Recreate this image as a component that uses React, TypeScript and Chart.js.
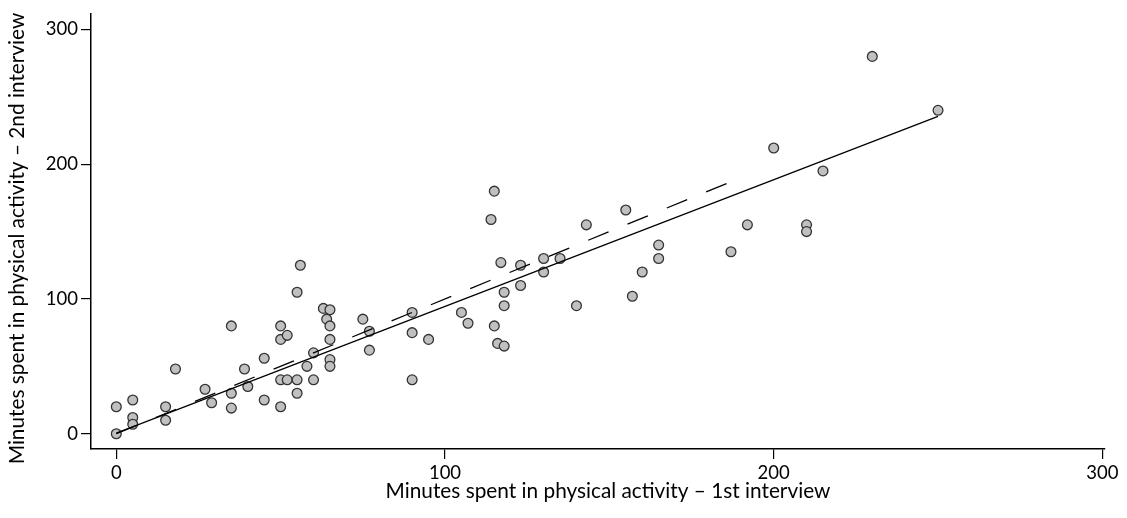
import React, { useEffect, useRef } from "react";
import { Chart, registerables } from "chart.js";

Chart.register(...registerables);

// Minutes spent in physical activity – 1st interview (x) and 2nd interview (y)
const firstInterview = [
  0, 0, 5, 5, 5, 15, 15, 18, 27, 29, 35, 35, 35, 39, 40, 45, 45, 50, 50, 52,
  50, 52, 55, 55, 50, 55, 56, 58, 60, 60, 63, 65, 64, 65, 65, 65, 65, 75, 77, 77,
  90, 90, 90, 95, 105, 107, 115, 114, 155, 143, 165, 165, 160, 157, 140, 130, 130, 135, 123, 123,
  117, 118, 118, 115, 116, 118, 250, 200, 215, 192, 210, 210, 187, 230,
];
const secondInterview = [
  0, 20, 25, 12, 7, 20, 10, 48, 33, 23, 80, 30, 19, 48, 35, 56, 25, 80, 70, 73,
  40, 40, 40, 30, 20, 105, 125, 50, 60, 40, 93, 92, 85, 80, 70, 55, 50, 85, 76, 62,
  90, 75, 40, 70, 90, 82, 180, 159, 166, 155, 140, 130, 120, 102, 95, 130, 120, 130, 125, 110,
  127, 105, 95, 80, 67, 65, 240, 212, 195, 155, 155, 150, 135, 280,
];

// Fitted regression line (solid) and dashed reference line
const fitLineX = [0, 250];
const fitLineY = [0.5, 235.5];
const dashedLineX = [0, 186];
const dashedLineY = [0, 186];

const xTickValues = [0, 100, 200, 300];
const yTickValues = [0, 100, 200, 300];

const xTitle = "Minutes spent in physical activity – 1st interview";
const yTitle = "Minutes spent in physical activity – 2nd interview";

const FONT = "Lato, 'Open Sans', sans-serif";

const axisTitlePlugin = {
  id: "axisTitles",
  afterDraw(chart: any) {
    const ctx = chart.ctx;
    ctx.save();
    ctx.fillStyle = "#000";
    ctx.font = `20.8px ${FONT}`;
    ctx.textAlign = "center";
    ctx.textBaseline = "middle";
    ctx.fillText(xTitle, 608, 491);
    ctx.translate(17.5, 238.5);
    ctx.rotate(-Math.PI / 2);
    ctx.fillText(yTitle, 0, 0);
    ctx.restore();
  },
};

export default function App() {
  const ref = useRef<HTMLCanvasElement | null>(null);

  useEffect(() => {
    if (!ref.current) return;
    const points = firstInterview.map((x, i) => ({ x, y: secondInterview[i] }));
    const fit = fitLineX.map((x, i) => ({ x, y: fitLineY[i] }));
    const dashed = dashedLineX.map((x, i) => ({ x, y: dashedLineY[i] }));

    const chart = new Chart(ref.current, {
      type: "scatter",
      data: {
        datasets: [
          {
            type: "line",
            data: fit,
            borderColor: "#000",
            borderWidth: 1.3,
            pointRadius: 0,
            fill: false,
            order: 0,
          } as any,
          {
            type: "line",
            data: dashed,
            borderColor: "#000",
            borderWidth: 1.3,
            borderDash: [22, 20.5],
            pointRadius: 0,
            fill: false,
            order: 0,
          } as any,
          {
            data: points,
            backgroundColor: "#c0c0c0",
            borderColor: "#333",
            borderWidth: 1.3,
            pointRadius: 4.9,
            order: 1,
          },
        ],
      },
      options: {
        responsive: false,
        animation: false,
        layout: { padding: { left: 0, top: 14, right: 22, bottom: 0 } },
        plugins: { legend: { display: false }, tooltip: { enabled: false } },
        scales: {
          x: {
            type: "linear",
            min: -7.7,
            max: 300.8,
            afterBuildTicks: (s: any) => {
              s.ticks = xTickValues.map((v) => ({ value: v }));
            },
            afterFit: (s: any) => {
              s.height = 69;
            },
            grid: {
              drawOnChartArea: false,
              drawTicks: true,
              tickLength: 10,
              color: "#000",
              lineWidth: 1.2,
            },
            border: { display: true, color: "#000", width: 1.5 },
            ticks: {
              color: "#000",
              font: { family: FONT, size: 18.5 },
              padding: 3,
              maxRotation: 0,
              autoSkip: false,
            },
            title: { display: false },
          },
          y: {
            type: "linear",
            min: -11.35,
            max: 311.4,
            afterBuildTicks: (s: any) => {
              s.ticks = yTickValues.map((v) => ({ value: v }));
            },
            afterFit: (s: any) => {
              s.width = 91;
            },
            grid: {
              drawOnChartArea: false,
              drawTicks: true,
              tickLength: 10,
              color: "#000",
              lineWidth: 1.2,
            },
            border: { display: true, color: "#000", width: 1.5 },
            ticks: {
              color: "#000",
              font: { family: FONT, size: 18.5 },
              padding: 3,
              autoSkip: false,
            },
            title: { display: false },
          },
        },
      },
      plugins: [axisTitlePlugin],
    });
    return () => chart.destroy();
  }, []);

  return (
    <div style={{ position: "fixed", left: 0, top: 0, width: 1127, height: 518, background: "#fff" }}>
      <canvas ref={ref} width={1127} height={518} />
    </div>
  );
}
